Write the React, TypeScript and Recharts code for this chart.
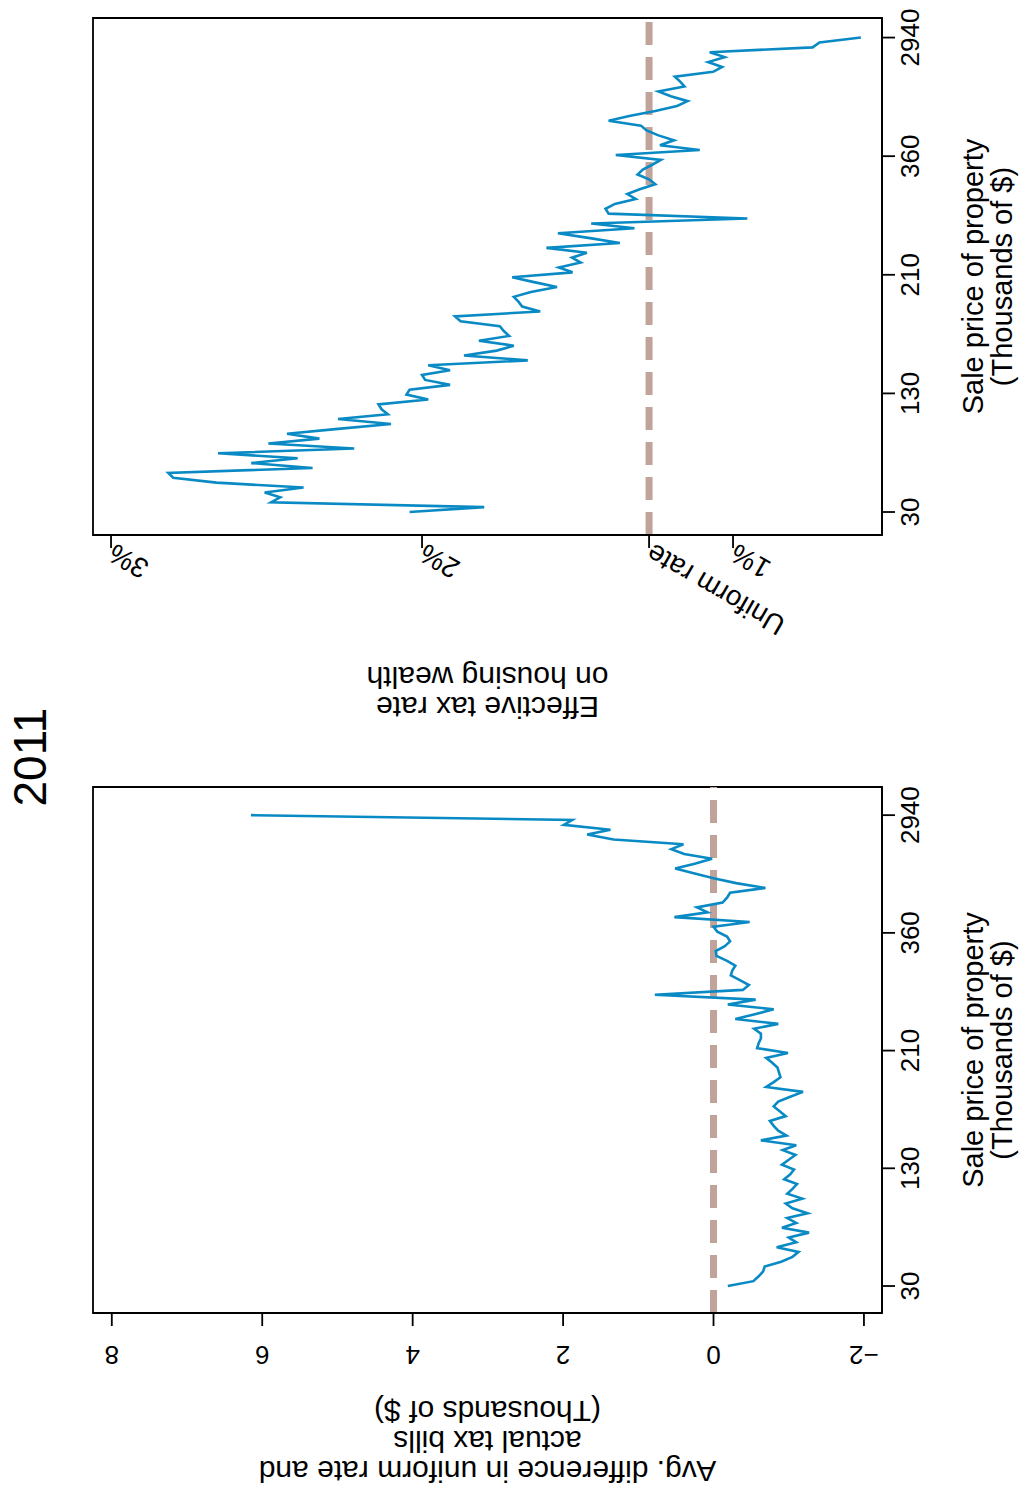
import { LineChart, Line, XAxis, YAxis, ReferenceLine, ReferenceArea } from "recharts";

const FONT = '"Liberation Sans", Arial, Helvetica, sans-serif';

// x axis = sale-price bins 1..98; ticks at first bin, quartiles and last bin,
// labelled with the bin price (thousands of $)
const priceTicks = [1, 25.25, 49.5, 73.75, 98];
const priceLabels = ["30", "130", "210", "360", "2940"];

// left panel: avg. difference uniform rate vs actual bill (thousands of $)
const taxDiff = [
  -0.19, -0.53, -0.6, -0.66, -0.68, -0.9, -1.05, -1.13, -0.84, -1.1,
  -1.0, -1.27, -0.91, -1.1, -0.98, -1.25, -1.05, -0.96, -1.18, -0.98,
  -1.05, -1.11, -0.94, -1.02, -1.07, -0.91, -1.0, -1.09, -0.92, -1.1,
  -0.63, -0.97, -0.86, -0.8, -0.75, -0.96, -0.88, -0.8, -0.86, -1.02,
  -1.19, -0.7, -0.8, -0.89, -0.87, -0.85, -0.78, -0.7, -0.99, -0.58,
  -0.6, -0.63, -0.63, -0.54, -0.86, -0.29, -0.55, -0.8, -0.19, -0.56,
  0.78, -0.39, -0.47, -0.35, -0.23, -0.25, -0.29, -0.18, -0.04, -0.03,
  -0.15, -0.22, -0.18, -0.05, 0.0, -0.48, 0.52, 0.08, 0.22, -0.12,
  -0.18, -0.22, -0.69, -0.3, 0.0, 0.25, 0.51, 0.25, 0.02, 0.39,
  0.56, 0.4, 1.33, 1.68, 1.37, 1.99, 1.88, 6.15,
];

// right panel: effective tax rate on housing wealth (%)
const effRate = [
  2.04, 1.8, 2.485, 2.456, 2.506, 2.381, 2.661, 2.8, 2.816, 2.352,
  2.549, 2.4, 2.656, 2.218, 2.494, 2.33, 2.434, 2.27, 2.1, 2.27,
  2.11, 2.13, 2.14, 1.98, 2.05, 2.04, 1.91, 1.99, 2.0, 1.91,
  1.98, 1.66, 1.865, 1.76, 1.705, 1.817, 1.72, 1.737, 1.75, 1.876,
  1.894, 1.62, 1.678, 1.69, 1.705, 1.65, 1.566, 1.64, 1.71, 1.516,
  1.56, 1.49, 1.518, 1.47, 1.6, 1.364, 1.46, 1.563, 1.317, 1.456,
  0.954, 1.4, 1.41, 1.38, 1.313, 1.34, 1.3, 1.25, 1.27, 1.307,
  1.29, 1.26, 1.232, 1.377, 1.107, 1.235, 1.19, 1.24, 1.278, 1.296,
  1.4, 1.33, 1.25, 1.18, 1.146, 1.2, 1.24, 1.156, 1.17, 1.187,
  1.064, 1.035, 1.08, 1.027, 1.075, 0.744, 0.722, 0.589,
];
const uniformRate = 1.27;

const diffTicks = [-2, 0, 2, 4, 6, 8];
const rateTicks = [1, uniformRate, 2, 3];
const rateTickLabels = ["1%", "Uniform rate", "2%", "3%"];

const diffData = taxDiff.map((v, k) => ({ bin: k + 1, diff: v }));
const rateData = effRate.map((v, k) => ({ bin: k + 1, rate: v }));

const LINE_BLUE = "#0a8ac4";
const DASH_COLOR = "#c0a39b";
const AXIS = { stroke: "#000", strokeWidth: 1.8 };

const priceFmt = (v: number) => priceLabels[priceTicks.indexOf(v)] ?? "";
const diffFmt = (v: number) => (v < 0 ? "\u2212" + Math.abs(v) : String(v));

function VerticalTick({ x, y, payload }: any) {
  return (
    <text
      x={x}
      y={y}
      transform={`rotate(-90 ${x} ${y})`}
      textAnchor="middle"
      fontSize={26}
      fontFamily={FONT}
      fill="#000"
    >
      {diffFmt(payload.value)}
    </text>
  );
}

function AngledTick({ x, y, payload }: any) {
  const label = rateTickLabels[rateTicks.indexOf(payload.value)] ?? "";
  return (
    <text
      x={x}
      y={y}
      transform={`rotate(-60 ${x} ${y})`}
      textAnchor="end"
      dominantBaseline="central"
      fontSize={28}
      fontFamily={FONT}
      fill="#000"
    >
      {label}
    </text>
  );
}

const XTitle = (props: any) => {
  const vb = props.viewBox;
  const cx = vb.x + vb.width / 2;
  return (
    <text textAnchor="middle" fontSize={29} fontFamily={FONT} fill="#000">
      <tspan x={cx} y={vb.y + 101}>Sale price of property</tspan>
      <tspan x={cx} y={vb.y + 130}>(Thousands of $)</tspan>
    </text>
  );
};

function yTitle(lines: string[], firstOffset: number) {
  return (props: any) => {
    const vb = props.viewBox;
    const axisX = vb.x + vb.width;
    const cy = vb.y + vb.height / 2;
    return (
      <g>
        {lines.map((t, k) => {
          const x = axisX - firstOffset + k * 30;
          return (
            <text
              key={t}
              x={x}
              y={cy}
              transform={`rotate(-90 ${x} ${cy})`}
              textAnchor="middle"
              fontSize={30}
              fontFamily={FONT}
              fill="#000"
            >
              {t}
            </text>
          );
        })}
      </g>
    );
  };
}

const leftTitle = yTitle(["Avg. difference in uniform rate and", "actual tax bills", "(Thousands of $)"], 148);
const rightTitle = yTitle(["Effective tax rate", "on housing wealth"], 162);

const leftX: [number, number] = [-4.56, 103.8];
const leftY: [number, number] = [-2.24, 8.25];
const rightX: [number, number] = [-3.7, 102];
const rightY: [number, number] = [0.521, 3.058];

function DiffChart() {
  return (
    <LineChart width={760} height={1024} data={diffData} margin={{ top: 93, right: 50, bottom: 82, left: 124 }}>
      <XAxis
        dataKey="bin"
        type="number"
        domain={leftX}
        allowDataOverflow
        ticks={priceTicks}
        interval={0}
        tickFormatter={priceFmt}
        height={60}
        tickSize={13}
        tickMargin={6}
        axisLine={AXIS}
        tickLine={AXIS}
        tick={{ fill: "#000", fontSize: 26, fontFamily: FONT }}
        label={XTitle}
      />
      <YAxis
        type="number"
        domain={leftY}
        allowDataOverflow
        ticks={diffTicks}
        interval={0}
        width={60}
        tickSize={13}
        tickMargin={20}
        axisLine={AXIS}
        tickLine={AXIS}
        tick={<VerticalTick />}
        label={leftTitle}
      />
      <ReferenceArea x1={leftX[0]} x2={leftX[1]} y1={leftY[0]} y2={leftY[1]} fill="none" stroke="#000" strokeWidth={1.8} ifOverflow="visible" />
      <ReferenceLine y={0} stroke={DASH_COLOR} strokeWidth={7} strokeDasharray="23 12" />
      <Line type="linear" dataKey="diff" stroke={LINE_BLUE} strokeWidth={2.6} dot={false} isAnimationActive={false} />
    </LineChart>
  );
}

function RateChart() {
  return (
    <LineChart width={737} height={1024} data={rateData} margin={{ top: 93, right: 18, bottom: 82, left: 142 }}>
      <XAxis
        dataKey="bin"
        type="number"
        domain={rightX}
        allowDataOverflow
        ticks={priceTicks}
        interval={0}
        tickFormatter={priceFmt}
        height={60}
        tickSize={13}
        tickMargin={6}
        axisLine={AXIS}
        tickLine={AXIS}
        tick={{ fill: "#000", fontSize: 26, fontFamily: FONT }}
        label={XTitle}
      />
      <YAxis
        type="number"
        domain={rightY}
        allowDataOverflow
        ticks={rateTicks}
        interval={0}
        width={60}
        tickSize={13}
        tickMargin={3}
        axisLine={AXIS}
        tickLine={AXIS}
        tick={<AngledTick />}
        label={rightTitle}
      />
      <ReferenceArea x1={rightX[0]} x2={rightX[1]} y1={rightY[0]} y2={rightY[1]} fill="none" stroke="#000" strokeWidth={1.8} ifOverflow="visible" />
      <ReferenceLine y={uniformRate} stroke={DASH_COLOR} strokeWidth={7} strokeDasharray="23 12" />
      <Line type="linear" dataKey="rate" stroke={LINE_BLUE} strokeWidth={2.6} dot={false} isAnimationActive={false} />
    </LineChart>
  );
}

export default function App() {
  return (
    <div style={{ position: "absolute", left: 0, top: 0, width: 1024, height: 1497, overflow: "hidden", background: "#fff" }}>
      {/* figure is laid out landscape and turned a quarter turn counter-clockwise */}
      <div
        style={{
          position: "absolute",
          left: 0,
          top: 0,
          width: 1497,
          height: 1024,
          transformOrigin: "0 0",
          transform: "translate(0px, 1497px) rotate(-90deg)",
          fontFamily: FONT,
        }}
      >
        <div
          style={{
            position: "absolute",
            left: 680,
            top: 7,
            width: 120,
            textAlign: "center",
            fontSize: 46,
            lineHeight: "46px",
          }}
        >
          2011
        </div>
        <div style={{ position: "absolute", left: 0, top: 0 }}>
          <DiffChart />
        </div>
        <div style={{ position: "absolute", left: 760, top: 0 }}>
          <RateChart />
        </div>
      </div>
    </div>
  );
}
